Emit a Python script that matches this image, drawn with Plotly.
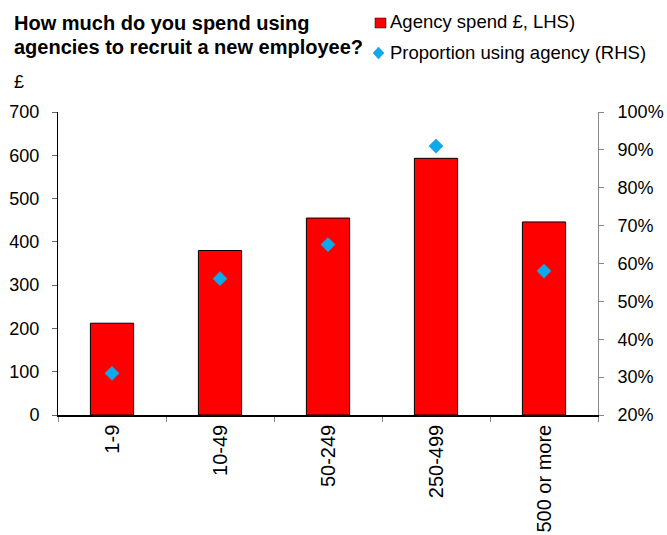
import plotly.graph_objects as go

# Company size bands and survey results
categories = ["1-9", "10-49", "50-249", "250-499", "500 or more"]
agency_spend = [212, 380, 455, 593, 446]          # £, left axis
proportion_using = [0.31, 0.56, 0.65, 0.91, 0.58]  # share, right axis

left_ticks = [0, 100, 200, 300, 400, 500, 600, 700]
right_ticks = [0.2, 0.3, 0.4, 0.5, 0.6, 0.7, 0.8, 0.9, 1.0]

FONT = "Liberation Sans, Arial, sans-serif"
RED = "#FF0000"
BLUE = "#0AAAEC"

# Plot area in pixels, used to place the header items in paper units
L, R, T, B = 58, 598, 112, 415


def px(x):
    return (x - L) / (R - L)


def py(y):
    return (B - y) / (B - T)


fig = go.Figure()

fig.add_trace(go.Bar(
    x=categories, y=agency_spend, name="Agency spend £, LHS)",
    marker=dict(color=RED, line=dict(color="black", width=1)),
    width=0.4, yaxis="y", showlegend=False,
))

fig.add_trace(go.Scatter(
    x=categories, y=proportion_using, name="Proportion using agency (RHS)",
    mode="markers", yaxis="y2",
    marker=dict(symbol="diamond", size=11, color=BLUE,
                line=dict(color="#3A8FC4", width=0.5)),
    showlegend=False,
))

fig.update_layout(
    width=667, height=535,
    margin=dict(l=L, r=667 - R, t=T, b=535 - B),
    paper_bgcolor="white", plot_bgcolor="white",
    font=dict(family=FONT, size=18, color="black"),
    xaxis=dict(
        type="category", showline=True, linecolor="black", linewidth=1.5,
        ticks="outside", tickson="boundaries", ticklen=5, tickcolor="#888888",
        tickangle=-90, tickfont=dict(size=20, family=FONT),
        showgrid=False, zeroline=False, automargin=False,
    ),
    yaxis=dict(
        range=[0, 700], tickvals=left_ticks, showline=True,
        linecolor="black", linewidth=1, ticks="outside", ticklen=5,
        tickcolor="#666666", showgrid=False, zeroline=False,
        tickfont=dict(size=18, family=FONT), ticklabelstandoff=9,
        automargin=False,
    ),
    yaxis2=dict(
        range=[0.2, 1.0], tickvals=right_ticks, tickformat=".0%",
        overlaying="y", side="right", showline=True, linecolor="#888888",
        linewidth=1, ticks="outside", ticklen=5, tickcolor="#888888",
        showgrid=False, zeroline=False,
        tickfont=dict(size=18, family=FONT), ticklabelstandoff=10,
        automargin=False,
    ),
)

# Title and unit label
title_lines = ["How much do you spend using", "agencies to recruit a new employee?"]
for line, yc in zip(title_lines, [23, 47]):
    fig.add_annotation(
        xref="paper", yref="paper", x=px(12), y=py(yc),
        xanchor="left", yanchor="middle", text=f"<b>{line}</b>",
        showarrow=False, align="left", font=dict(size=20, family=FONT),
    )
fig.add_annotation(
    xref="paper", yref="paper", x=px(12), y=py(82), xanchor="left",
    yanchor="middle", text="£", showarrow=False, font=dict(size=18, family=FONT),
)

# Legend: keys and labels
fig.add_shape(type="rect", xref="paper", yref="paper",
              x0=px(375), x1=px(386), y0=py(28), y1=py(18),
              fillcolor=RED, line=dict(color="black", width=0.5))
cx, cy = px(378.5), py(53)
dx, dy = 5.5 / (R - L), 6 / (B - T)
fig.add_shape(type="path", xref="paper", yref="paper",
              path=f"M {cx-dx} {cy} L {cx} {cy+dy} L {cx+dx} {cy} L {cx} {cy-dy} Z",
              fillcolor=BLUE, line=dict(color="#3A8FC4", width=0.5))
legend_labels = ["Agency spend £, LHS)", "Proportion using agency (RHS)"]
for label, yc in zip(legend_labels, [22, 53]):
    fig.add_annotation(xref="paper", yref="paper", x=px(388), y=py(yc),
                       xanchor="left", yanchor="middle", showarrow=False,
                       text=label, font=dict(size=18.5, family=FONT))

fig.write_html("out.html")
